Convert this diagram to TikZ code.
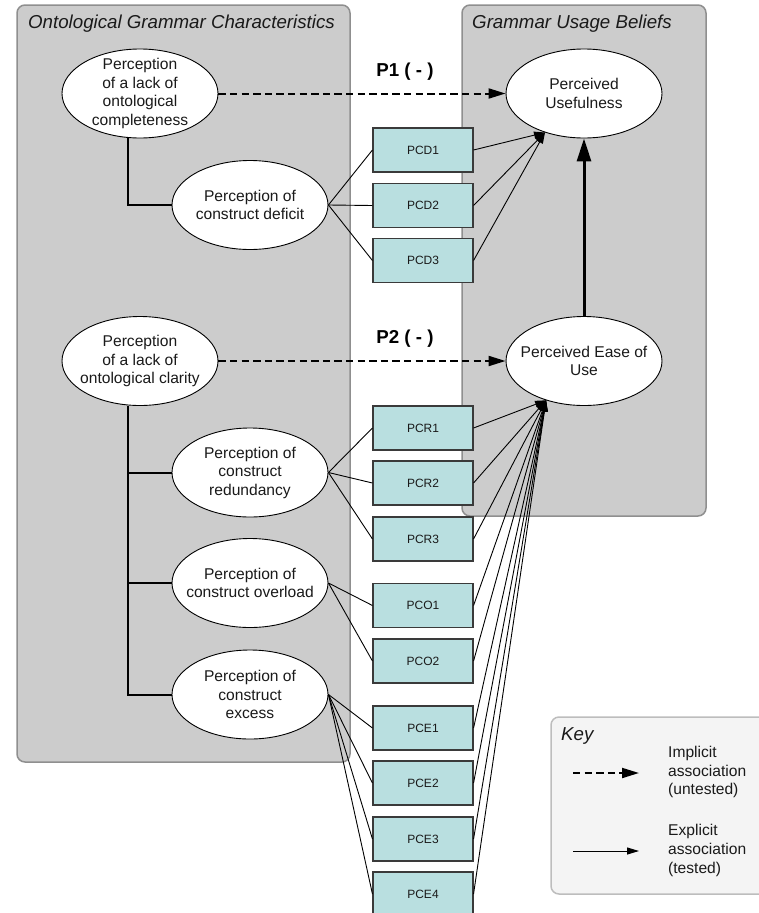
\documentclass[tikz,border=0pt]{standalone}
\usepackage{fontspec}
\setmainfont{Liberation Sans}
\usetikzlibrary{shapes.geometric,arrows.meta}
\definecolor{panelgray}{HTML}{CCCCCC}
\definecolor{paneledge}{HTML}{8F8F8F}
\definecolor{itemfill}{HTML}{B9DFE0}
\definecolor{itemedge}{HTML}{3A3A3A}
\definecolor{keyfill}{HTML}{F4F4F4}
\definecolor{keyedge}{HTML}{BDBDBD}
\definecolor{ink}{HTML}{1A1A1A}
\pgfdeclarelayer{background}
\pgfsetlayers{background,main}

\begin{document}
\begin{tikzpicture}[x=1pt,y=-1pt,
  panel/.style={draw=paneledge, fill=panelgray, line width=1.5pt, rounded corners=8pt},
  keypanel/.style={draw=keyedge, fill=keyfill, line width=1.5pt, rounded corners=8pt},
  construct/.style={ellipse, draw=black, fill=white, line width=0.9pt,
    minimum width=156pt, minimum height=89pt, inner sep=0pt},
  ctext/.style={text=ink, align=center, inner sep=0pt, font=\fontsize{15.6}{18.5}\selectfont},
  item/.style={rectangle, draw=itemedge, fill=itemfill, line width=1.1pt,
    minimum width=100pt, minimum height=44pt, inner sep=0pt, text=ink,
    font=\fontsize{12}{14}\selectfont},
  heading/.style={anchor=base west, inner sep=0pt, text=ink, font=\fontsize{18.7}{22}\selectfont\itshape},
  plabel/.style={inner sep=0pt, text=black, font=\fontsize{18.7}{22}\selectfont\bfseries},
  keytext/.style={anchor=west, inner sep=0pt, align=left, text=ink, font=\fontsize{15.6}{18.7}\selectfont},
  tree/.style={line width=2pt, draw=black},
  link/.style={line width=0.9pt, draw=black},
  measure/.style={line width=0.9pt, draw=black, -{Triangle[length=11pt,width=7pt]}},
  implicit/.style={line width=2pt, draw=black, dash pattern=on 7.3pt off 4.3pt, -{Triangle[length=17pt,width=10pt]}},
  keysolid/.style={line width=1pt, draw=black, -{Triangle[length=12pt,width=7pt]}},
  explicit/.style={line width=3pt, draw=black, -{Triangle[length=23pt,width=14pt]}},
]
\useasboundingbox (0,0) rectangle (759,913);
\clip (0,0) rectangle (759,913);

% constructs
\node[construct, label={[ctext]center:Perception\\of a lack of\\ontological\\completeness}] (E1) at (140,93.5) {};
\node[construct, label={[ctext]center:Perception of\\construct deficit}] (E2) at (250,205) {};
\node[construct, label={[ctext]center:Perception\\of a lack of\\ontological clarity}] (E3) at (140,361) {};
\node[construct, label={[ctext]center:Perception of\\construct\\redundancy}] (E4) at (250,472.5) {};
\node[construct, label={[ctext]center:Perception of\\construct overload}] (E5) at (250,583) {};
\node[construct, label={[ctext]center:Perception of\\construct\\excess}] (E6) at (250,694.5) {};
\node[construct, label={[ctext]center:Perceived\\Usefulness}] (PU) at (584,93.5) {};
\node[construct, label={[ctext]center:Perceived Ease of\\Use}] (PEU) at (584,361) {};

% panels and hierarchy lines sit beneath the constructs
\begin{pgfonlayer}{background}
  \draw[panel] (17,5) rectangle (350,762);
  \draw[panel] (462,5) rectangle (706,516);
  \coordinate (trunkA) at ([xshift=-12pt]E1.south);
  \coordinate (trunkB) at ([xshift=-12pt]E3.south);
  \draw[tree] (trunkA) |- (E2.west);
  \draw[tree] (trunkB) |- (E6.west);
  \draw[tree] (E4.west) -- (E4.west -| trunkB);
  \draw[tree] (E5.west) -- (E5.west -| trunkB);
\end{pgfonlayer}
\node[heading] (hOGC) at (28,28) {Ontological Grammar Characteristics};
\node[heading] (hGUB) at (472,28) {Grammar Usage Beliefs};

% measurement items
\node[item] (PCD1) at (423,150) {PCD1};
\node[item] (PCD2) at (423,205.5) {PCD2};
\node[item] (PCD3) at (423,260.5) {PCD3};
\node[item] (PCR1) at (423,428) {PCR1};
\node[item] (PCR2) at (423,483) {PCR2};
\node[item] (PCR3) at (423,539) {PCR3};
\node[item] (PCO1) at (423,605.5) {PCO1};
\node[item] (PCO2) at (423,661) {PCO2};
\node[item] (PCE1) at (423,728) {PCE1};
\node[item] (PCE2) at (423,783) {PCE2};
\node[item] (PCE3) at (423,839) {PCE3};
\node[item] (PCE4) at (423,894) {PCE4};

% constructs to items
\foreach \i in {PCD1,PCD2,PCD3} \draw[link] (E2.east) -- (\i.west);
\foreach \i in {PCR1,PCR2,PCR3} \draw[link] (E4.east) -- (\i.west);
\foreach \i in {PCO1,PCO2} \draw[link] (E5.east) -- (\i.west);
\foreach \i in {PCE1,PCE2,PCE3,PCE4} \draw[link] (E6.east) -- (\i.west);

% items to beliefs
\foreach \i in {PCD1,PCD2,PCD3} \draw[measure] (\i.east) -- (PU.225);
\foreach \i in {PCR1,PCR2,PCR3,PCO1,PCO2,PCE1,PCE2,PCE3,PCE4} \draw[measure] (\i.east) -- (PEU.226);

% propositions
\draw[implicit] (E1.east) -- (PU.west);
\draw[implicit] (E3.east) -- (PEU.west);
\node[plabel] (P1) at (405,72) {P1 ( - )};
\node[plabel] (P2) at (405,339) {P2 ( - )};
\draw[explicit] (PEU.north) -- (PU.south);

% key
\draw[keypanel] (551,717) rectangle (775,894);
\node[heading] (hKey) at (561,740) {Key};
\coordinate (k1a) at (573,773);
\coordinate (k1b) at (639,773);
\coordinate (k2a) at (573,851);
\coordinate (k2b) at (639,851);
\draw[implicit] (k1a) -- (k1b);
\draw[keysolid] (k2a) -- (k2b);
\node[keytext] (kImp) at (668,772) {Implicit\\association\\(untested)};
\node[keytext] (kExp) at (668,850.5) {Explicit\\association\\(tested)};
\end{tikzpicture}
\end{document}
